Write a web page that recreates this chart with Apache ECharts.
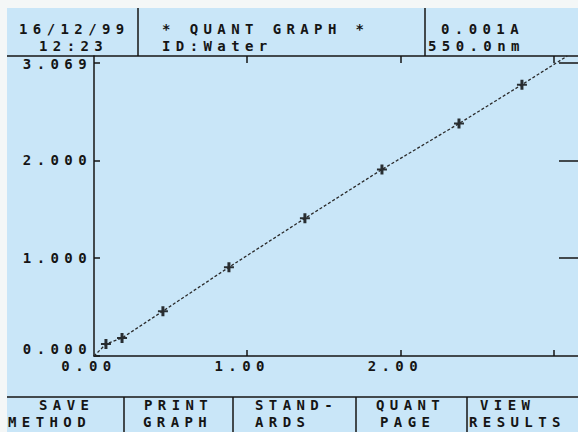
<!DOCTYPE html>
<html><head><meta charset="utf-8">
<script src="https://cdn.jsdelivr.net/npm/echarts@6/dist/echarts.min.js"></script>
<style>
html,body{margin:0;padding:0;background:#f4f7f7;}
#wrap{position:relative;width:578px;height:432px;overflow:hidden;}
#bg{position:absolute;left:7px;top:8px;right:0;bottom:0;background:#c9e6f8;}
#chart{position:absolute;left:0;top:0;width:578px;height:432px;}
#chart text{letter-spacing:5.4px;}
</style></head>
<body><div id="wrap"><div id="bg"></div><div id="chart"></div></div>
<script>
// Standards (concentration vs absorbance)
const stdConc = [0.078, 0.183, 0.450, 0.881, 1.377, 1.880, 2.383, 2.794];
const stdAbs  = [0.122, 0.184, 0.459, 0.908, 1.408, 1.908, 2.378, 2.776];
// Calibration curve
const fitConc = [0, 0.078, 0.183, 0.450, 0.881, 1.377, 1.880, 2.383, 2.794, 3.09];
const fitAbs  = [0, 0.122, 0.184, 0.459, 0.908, 1.408, 1.908, 2.378, 2.776, 3.069];
// Axes
const yMax = 3.069;
const xMax = 3.16;
const yLabelValues = [0, 1, 2, 3.069];
const yTickValues = [0, 1, 2, 3];
const xLabelValues = [0, 1, 2];
const xTickValues = [1, 2, 3];
// Screen texts
const headerTexts = ['16/12/99', '12:23', '* QUANT GRAPH *', 'ID:Water', '0.001A', '550.0nm'];
const buttonTexts = ['SAVE', 'METHOD', 'PRINT', 'GRAPH', 'STAND-', 'ARDS', 'QUANT', 'PAGE', 'VIEW', 'RESULTS'];

// Layout (positions only)
const headerPos = [[19, 29], [39, 46], [162, 29], [162, 46], [441, 29], [428, 46]];
const buttonPos = [[39, 405], [8, 422], [144, 405], [143, 422], [255, 405], [255, 422], [376, 405], [380, 422], [480, 405], [469, 422]];
const INK = '#151515';
const FONT = '"DejaVu Sans Mono", "Liberation Mono", monospace';
const FS = 14;

const chart = echarts.init(document.getElementById('chart'), null, {renderer: 'svg'});

const graphics = [];
headerTexts.forEach((t, i) => graphics.push({
  type: 'text', x: headerPos[i][0], y: headerPos[i][1],
  style: {text: t, fill: INK, font: 'bold ' + FS + 'px ' + FONT, textAlign: 'left', textVerticalAlign: 'middle'}
}));
buttonTexts.forEach((t, i) => graphics.push({
  type: 'text', x: buttonPos[i][0], y: buttonPos[i][1],
  style: {text: t, fill: INK, font: 'bold ' + FS + 'px ' + FONT, textAlign: 'left', textVerticalAlign: 'middle'}
}));
const lineStyle = {stroke: INK, lineWidth: 1.5};
[[7, 56, 578, 56], [138, 8, 138, 56], [425, 8, 425, 56],
 [7, 397, 578, 397], [124, 397, 124, 432], [233, 397, 233, 432], [356, 397, 356, 432], [467, 397, 467, 432]
].forEach(s => graphics.push({type: 'line', shape: {x1: s[0], y1: s[1], x2: s[2], y2: s[3]}, style: lineStyle}));

const axisLineStyle = {color: INK, width: 1.5};
const yRich = {
  z: {align: 'right', padding: [0, 0, 14, 0], fontFamily: FONT, fontWeight: 'bold', fontSize: FS, color: INK},
  n: {align: 'right', fontFamily: FONT, fontWeight: 'bold', fontSize: FS, color: INK},
  t: {align: 'right', padding: [16, 0, 0, 0], fontFamily: FONT, fontWeight: 'bold', fontSize: FS, color: INK}
};

chart.setOption({
  animation: false,
  grid: {left: 94, right: 0, top: 56, bottom: 76, containLabel: false},
  xAxis: [{
    type: 'value', min: 0, max: xMax, position: 'bottom',
    axisLine: {show: true, onZero: false, lineStyle: axisLineStyle},
    axisTick: {show: true, inside: true, length: 6, customValues: xTickValues, lineStyle: axisLineStyle},
    axisLabel: {show: true, customValues: xLabelValues, margin: 3, padding: [0, 10, 0, 0],
      formatter: v => v.toFixed(2), fontFamily: FONT, fontWeight: 'bold', fontSize: FS, color: INK},
    splitLine: {show: false}
  }, {
    type: 'value', min: 0, max: xMax, position: 'top',
    axisLine: {show: false, onZero: false},
    axisTick: {show: true, inside: true, length: 7, customValues: xTickValues, lineStyle: axisLineStyle},
    axisLabel: {show: false}, splitLine: {show: false}
  }],
  yAxis: [{
    type: 'value', min: 0, max: yMax, position: 'left',
    axisLine: {show: true, onZero: false, lineStyle: axisLineStyle},
    axisTick: {show: true, inside: true, length: 6, customValues: yTickValues, lineStyle: axisLineStyle},
    axisLabel: {show: true, customValues: yLabelValues, margin: 2,
      formatter: v => {
        const s = v.toFixed(3);
        if (v === 0) return '{z|' + s + '}';
        if (v === yMax) return '{t|' + s + '}';
        return '{n|' + s + '}';
      }, rich: yRich},
    splitLine: {show: false}
  }, {
    type: 'value', min: 0, max: yMax, position: 'right',
    axisLine: {show: false, onZero: false},
    axisTick: {show: true, inside: true, length: 19, customValues: [1, 2, 3], lineStyle: axisLineStyle},
    axisLabel: {show: false}, splitLine: {show: false}
  }],
  series: [{
    type: 'line', xAxisIndex: 0, yAxisIndex: 0,
    data: fitConc.map((x, i) => [x, fitAbs[i]]),
    showSymbol: false, smooth: false, clip: true,
    lineStyle: {color: '#2a2a2a', width: 1.3, type: [3, 2]}
  }, {
    type: 'scatter', xAxisIndex: 0, yAxisIndex: 0,
    data: stdConc.map((x, i) => [x, stdAbs[i]]),
    symbol: 'path://M3.5,0h3v4h3.5v2h-3.5v4h-3v-4h-3.5v-2h3.5z', symbolSize: 10,
    itemStyle: {color: '#000'}
  }],
  graphic: graphics
});
</script>
</body></html>
